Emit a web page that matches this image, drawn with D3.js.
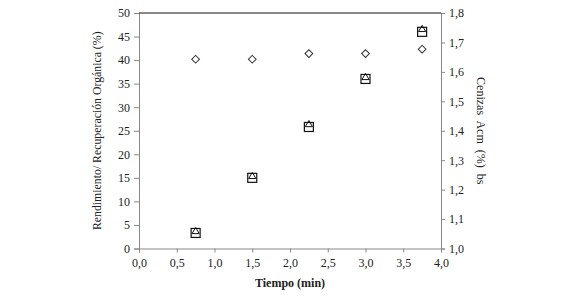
<!DOCTYPE html>
<html>
<head>
<meta charset="utf-8">
<script src="https://cdn.jsdelivr.net/npm/d3@7"></script>
<style>
  body { margin: 0; background: #fff; }
  svg { display: block; font-family: "Liberation Serif", "DejaVu Serif", serif; }
</style>
</head>
<body>
<svg id="chart"></svg>
<script>
// valeurs
const tiempo = [0.75, 1.5, 2.25, 3.0, 3.75];
const rendimiento = [3.3, 15.0, 25.8, 36.0, 46.0];     // carrés
const recuperacion = [3.6, 15.3, 26.3, 36.3, 46.5];    // triangles
const cenizas = [1.643, 1.643, 1.662, 1.662, 1.677];   // losanges, axe droit

const xTicks = [0, 0.5, 1, 1.5, 2, 2.5, 3, 3.5, 4];
const yTicks = [0, 5, 10, 15, 20, 25, 30, 35, 40, 45, 50];
const y2Ticks = [1.0, 1.1, 1.2, 1.3, 1.4, 1.5, 1.6, 1.7, 1.8];

const width = 580, height = 299;
const margin = {top: 13, right: 139, bottom: 50.5, left: 139};
const serif = "'Liberation Serif', 'DejaVu Serif', serif";

const svg = d3.select("#chart")
  .attr("width", width)
  .attr("height", height);

const x = d3.scaleLinear().domain([0, 4]).range([margin.left, width - margin.right]);
const y = d3.scaleLinear().domain([0, 50]).range([height - margin.bottom, margin.top]);
const y2 = d3.scaleLinear().domain([1.0, 1.8]).range([height - margin.bottom, margin.top]);

const fmt1 = d3.format(".1f");
const comma = v => fmt1(v).replace(".", ",");

// style commun des axes
const styleAxis = g => g
    .attr("font-family", serif)
    .attr("font-size", 12)
    .call(g => g.select(".domain").attr("stroke", "#888"))
    .call(g => g.selectAll(".tick line").attr("stroke", "#888"))
    .call(g => g.selectAll("text").attr("fill", "#222").style("font-family", serif));

svg.append("g")
    .attr("transform", `translate(0,${y(0)})`)
    .call(d3.axisBottom(x).tickValues(xTicks).tickSize(4).tickPadding(6).tickFormat(comma))
    .call(styleAxis);

svg.append("g")
    .attr("transform", `translate(${x(0)},0)`)
    .call(d3.axisLeft(y).tickValues(yTicks).tickSize(5).tickPadding(4))
    .call(styleAxis);

svg.append("g")
    .attr("transform", `translate(${x(4)},0)`)
    .call(d3.axisRight(y2).tickValues(y2Ticks).tickSize(4).tickPadding(4).tickFormat(comma))
    .call(styleAxis);

// ligne du haut
svg.append("line")
    .attr("x1", x(0)).attr("x2", x(4))
    .attr("y1", y(50)).attr("y2", y(50))
    .attr("stroke", "#111");

// titres
svg.append("text")
    .attr("x", x(2))
    .attr("y", 287)
    .attr("text-anchor", "middle")
    .attr("font-size", 12)
    .attr("font-weight", "bold")
    .attr("fill", "#222")
    .text("Tiempo (min)");

svg.append("text")
    .attr("transform", `translate(101,${(y(0) + y(50)) / 2}) rotate(-90)`)
    .attr("text-anchor", "middle")
    .attr("font-size", 11.8)
    .attr("fill", "#222")
    .text("Rendimiento/ Recuperación Orgánica (%)");

svg.append("text")
    .attr("transform", `translate(477,${(y(0) + y(50)) / 2}) rotate(90)`)
    .attr("text-anchor", "middle")
    .attr("font-size", 12)
    .attr("fill", "#222")
    .style("white-space", "pre")
    .text("Cenizas  Acm  (%)  bs");

// séries
const pts = tiempo.map((t, i) => ({t, r: rendimiento[i], q: recuperacion[i], c: cenizas[i]}));

svg.append("g")
  .selectAll("rect")
  .data(pts)
  .join("rect")
    .attr("x", d => x(d.t) - 4.5)
    .attr("y", d => y(d.r) - 4.5)
    .attr("width", 9)
    .attr("height", 9)
    .attr("fill", "none")
    .attr("stroke", "#111")
    .attr("stroke-width", 1.2);

svg.append("g")
  .selectAll("path")
  .data(pts)
  .join("path")
    .attr("transform", d => `translate(${x(d.t)},${y(d.q)})`)
    .attr("d", d3.symbol(d3.symbolTriangle, 22))
    .attr("fill", "none")
    .attr("stroke", "#111")
    .attr("stroke-width", 1);

svg.append("g")
  .selectAll("path")
  .data(pts)
  .join("path")
    .attr("transform", d => `translate(${x(d.t)},${y2(d.c)}) rotate(45)`)
    .attr("d", d3.symbol(d3.symbolSquare, 30))
    .attr("fill", "none")
    .attr("stroke", "#333")
    .attr("stroke-width", 1);
</script>
</body>
</html>
